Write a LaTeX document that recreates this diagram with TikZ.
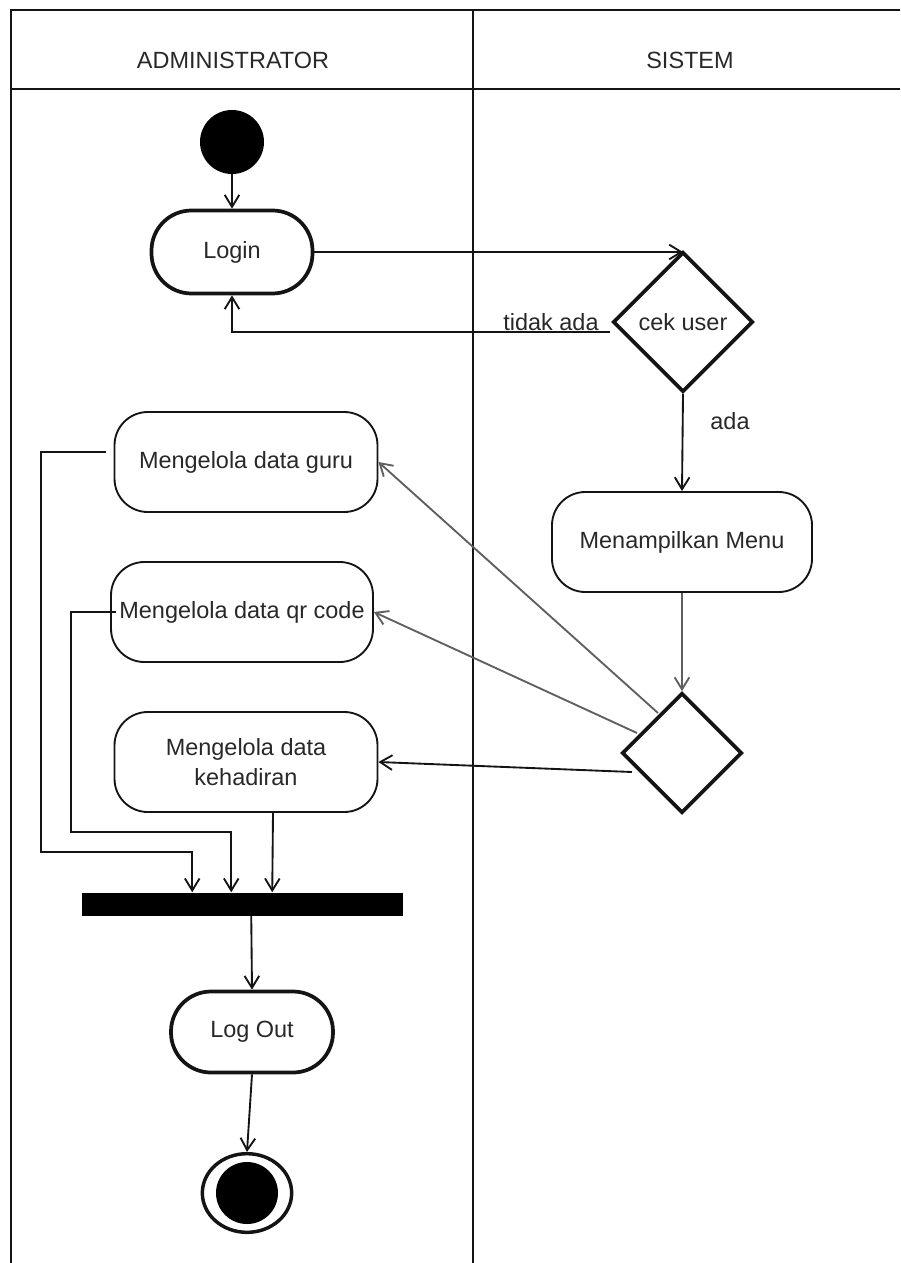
\documentclass[tikz,border=0pt]{standalone}
\usepackage{fontspec}
\setmainfont{Liberation Sans}
\usetikzlibrary{arrows.meta,shapes.geometric,calc}
\definecolor{txt}{RGB}{40,40,40}
\definecolor{ln}{RGB}{20,20,20}
\definecolor{gln}{RGB}{95,95,95}
\tikzset{
  thinbox/.style={draw=ln,line width=1.4pt,rectangle,rounded corners=25pt,minimum height=75pt,inner sep=0pt,align=center,text=txt},
  thickbox/.style={draw=ln,line width=2.8pt,rectangle,inner sep=0pt,text=txt},
  decide/.style={draw=ln,line width=2.8pt,diamond,inner sep=0pt,aspect=1,text=txt},
  arr/.style={draw=ln,line width=1.4pt,-{Straight Barb[length=9pt,width=11pt]}},
  garr/.style={draw=gln,line width=1.4pt,-{Straight Barb[length=9pt,width=11pt]}},
  lbl/.style={text=txt,inner sep=0pt},
  frame/.style={draw=ln,line width=1.3pt}
}
\begin{document}
\begin{tikzpicture}[x=0.75pt,y=-0.75pt,font=\fontsize{17.6}{22}\selectfont]
\useasboundingbox (0,0) rectangle (900,1263);
% frame
\draw[frame] (11,1263) -- (11,10) -- (900,10);
\draw[frame] (11,89) -- (900,89);
\draw[frame] (473,10) -- (473,1263);
\node[lbl] (hadm) at (233,60) {ADMINISTRATOR};
\node[lbl] (hsis) at (690,60) {SISTEM};
% nodes
\node[circle,fill=black,minimum size=48pt,inner sep=0pt] (start) at (232,142) {};
\node[thickbox,rounded corners=30pt,minimum width=120.75pt,minimum height=62.25pt] (login) at (232,252) {Login};
\node[decide,minimum width=105pt,minimum height=105pt] (dia1) at (683,322) {cek user};
\node[thinbox,minimum width=195pt] (menu) at (682,542) {Menampilkan Menu};
\node[decide,minimum width=90pt,minimum height=90pt] (dia2) at (682,753) {};
\node[thinbox,minimum width=197.25pt] (guru) at (246,462) {Mengelola data guru};
\node[thinbox,minimum width=196.5pt] (qr) at (242,612) {Mengelola data qr code};
\node[thinbox,minimum width=197.25pt] (keh) at (246,762) {Mengelola data\\kehadiran};
\node[rectangle,fill=black,minimum width=240.75pt,minimum height=17.25pt,inner sep=0pt] (bar) at (242,904) {};
\node[thickbox,rounded corners=30pt,minimum width=121.5pt,minimum height=60.75pt] (logout) at (252,1032) {Log Out};
\node[ellipse,draw=ln,line width=2.6pt,minimum width=67pt,minimum height=59pt,inner sep=0pt] (endo) at (247,1193) {};
\node[circle,fill=black,minimum size=46.5pt,inner sep=0pt] (endi) at (247,1193) {};
% connectors
\draw[arr] (start) -- (login);
\draw[arr] (login.east) -- (login.east -| dia1.north);
\draw[arr] ($(dia1.west)+(-1,10)$) -| (login.south);
\node[lbl] (tidak) at (551,322) {tidak ada};
\draw[arr] (dia1.south) -- (menu.north);
\node[lbl] (ada) at (730,421) {ada};
\draw[garr] (menu.south) -- (dia2.north);
\draw[garr] ($(dia2.center)+(-24,-40)$) -- (guru.east);
\draw[garr] ($(dia2.center)+(-45,-20)$) -- (qr.east);
\draw[arr] ($(dia2.center)+(-50,19)$) -- (keh.east);
\draw[arr] ($(guru.west)+(-8,-10)$) -- ++(-65,0) -- ++(0,400) -| ($(bar.north west)+(111,0)$);
\draw[arr] ($(qr.west)+(6,0)$) -- ++(-45,0) -- ++(0,220) -| ($(bar.north west)+(150,0)$);
\draw[arr] ($(keh.south)+(27,0)$) -- ($(bar.north west)+(191,0)$);
\draw[arr] ($(bar.south west)+(170,0)$) -- (logout.north);
\draw[arr] (logout.south) -- (endo.north);
\end{tikzpicture}
\end{document}
